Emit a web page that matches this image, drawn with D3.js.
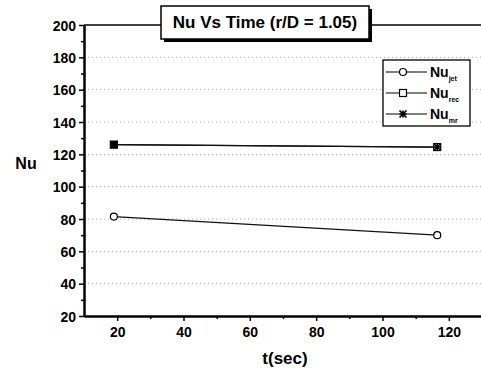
<!DOCTYPE html>
<html>
<head>
<meta charset="utf-8">
<script src="https://cdn.jsdelivr.net/npm/d3@7"></script>
<style>
  body { margin: 0; background: #fff; }
  svg { font-family: Arial, "Liberation Sans", sans-serif; font-weight: bold; }
</style>
</head>
<body>
<div id="chart"></div>
<script>
// data
const time = [19, 116.5];
const nuJet = [81.5, 70];
const nuRec = [126, 124.5];
const nuMr = [126, 124.5];
const xTicks = [20, 40, 60, 80, 100, 120];
const yTicks = [20, 40, 60, 80, 100, 120, 140, 160, 180, 200];

const width = 481;
const height = 369;
const margin = { top: 25, right: -1, bottom: 53, left: 84 };

const x = d3.scaleLinear().domain([10, 130]).range([margin.left, width - margin.right]);
const y = d3.scaleLinear().domain([20, 200]).range([height - margin.bottom, margin.top]);

const svg = d3.select('#chart').append('svg')
    .attr('width', width)
    .attr('height', height);

// dotted grid
svg.append('g')
    .selectAll('line')
    .data(yTicks.slice(1, -1))
  .join('line')
    .attr('x1', x(10) + 4)
    .attr('x2', width)
    .attr('y1', (d) => y(d))
    .attr('y2', (d) => y(d))
    .attr('stroke', '#aaa')
    .attr('stroke-width', 1)
    .attr('stroke-dasharray', '1,3');

// top frame
svg.append('line')
    .attr('x1', x(10)).attr('x2', width)
    .attr('y1', y(200)).attr('y2', y(200))
    .attr('stroke', '#000').attr('stroke-width', 1.5);

// axes
const xAxis = svg.append('g')
    .attr('transform', `translate(0,${y(20)})`)
    .call(d3.axisBottom(x).tickValues(xTicks).tickSize(5).tickPadding(6).tickSizeOuter(0));
const xMinor = svg.append('g')
    .attr('transform', `translate(0,${y(20)})`)
    .call(d3.axisBottom(x).tickValues([30, 50, 70, 90, 110]).tickSize(3).tickFormat('').tickSizeOuter(0));
const yAxis = svg.append('g')
    .attr('transform', `translate(${x(10)},0)`)
    .call(d3.axisLeft(y).tickValues(yTicks).tickSize(5).tickPadding(3).tickSizeOuter(0));
const yMinor = svg.append('g')
    .attr('transform', `translate(${x(10)},0)`)
    .call(d3.axisLeft(y).tickValues([30, 50, 70, 90, 110, 130, 150, 170, 190]).tickSize(3).tickFormat('').tickSizeOuter(0));

[xAxis, xMinor, yAxis, yMinor].forEach((g) => {
  g.select('.domain').attr('stroke-width', 2);
  g.selectAll('.tick line').attr('stroke-width', 1.5);
  g.selectAll('.tick text')
      .attr('font-size', 14)
      .attr('font-weight', 'bold')
      .attr('font-family', 'Arial, "Liberation Sans", sans-serif');
});
yAxis.selectAll('.tick text').attr('dy', '0.36em');

// axis titles
svg.append('text')
    .attr('x', x(70) + 2)
    .attr('y', 364)
    .attr('text-anchor', 'middle')
    .attr('font-size', 17)
    .text('t(sec)');
svg.append('text')
    .attr('x', 26)
    .attr('y', 169)
    .attr('text-anchor', 'middle')
    .attr('font-size', 16)
    .text('Nu');

// series
const line = d3.line().x((d) => x(d[0])).y((d) => y(d[1]));
const jetPts = time.map((t, i) => [t, nuJet[i]]);
const recPts = time.map((t, i) => [t, nuRec[i]]);
const mrPts = time.map((t, i) => [t, nuMr[i]]);

[jetPts, recPts, mrPts].forEach((pts) => {
  svg.append('path')
      .attr('d', line(pts))
      .attr('fill', 'none')
      .attr('stroke', '#111')
      .attr('stroke-width', 1.3);
});

function circleMark(g, cx, cy) {
  g.append('circle').attr('cx', cx).attr('cy', cy).attr('r', 3.5)
      .attr('fill', '#fff').attr('stroke', '#000').attr('stroke-width', 1.2);
}
function squareMark(g, cx, cy, fill) {
  g.append('rect').attr('x', cx - 3.5).attr('y', cy - 3.5).attr('width', 7).attr('height', 7)
      .attr('fill', fill).attr('stroke', '#000').attr('stroke-width', 1.2);
}
function starMark(g, cx, cy) {
  const s = 3.5;
  g.append('path')
      .attr('d', `M${cx - s},${cy}H${cx + s}M${cx},${cy - s}V${cy + s}M${cx - s},${cy - s}L${cx + s},${cy + s}M${cx - s},${cy + s}L${cx + s},${cy - s}`)
      .attr('stroke', '#000').attr('stroke-width', 1.6);
}

jetPts.forEach((d) => circleMark(svg, x(d[0]), y(d[1])));
recPts.forEach((d, i) => squareMark(svg, x(d[0]), y(d[1]), i === 0 ? '#000' : '#fff'));
mrPts.forEach((d) => starMark(svg, x(d[0]), y(d[1])));

// title box
const title = svg.append('g');
title.append('rect').attr('x', 164).attr('y', 9).attr('width', 208).attr('height', 33).attr('fill', '#000');
title.append('rect').attr('x', 161).attr('y', 6).attr('width', 208).attr('height', 33)
    .attr('fill', '#fff').attr('stroke', '#000').attr('stroke-width', 1.5);
title.append('text')
    .attr('x', 265).attr('y', 28)
    .attr('text-anchor', 'middle')
    .attr('font-size', 17)
    .text('Nu Vs Time (r/D = 1.05)');

// legend
const legendNames = ['jet', 'rec', 'mr'];
const legend = svg.append('g');
legend.append('rect').attr('x', 383).attr('y', 60).attr('width', 87).attr('height', 66)
    .attr('fill', '#fff').attr('stroke', '#000').attr('stroke-width', 1.3);
legendNames.forEach((name, i) => {
  const ly = 72 + i * 21;
  legend.append('line').attr('x1', 386).attr('x2', 427).attr('y1', ly).attr('y2', ly)
      .attr('stroke', '#000').attr('stroke-width', 1.2);
  if (i === 0) circleMark(legend, 403, ly);
  if (i === 1) squareMark(legend, 403, ly, '#fff');
  if (i === 2) starMark(legend, 403, ly);
  const t = legend.append('text').attr('x', 430).attr('y', ly + 5).attr('font-size', 14);
  t.append('tspan').text('Nu');
  t.append('tspan').attr('dy', 4).attr('font-size', 7).text(name);
});
</script>
</body>
</html>
